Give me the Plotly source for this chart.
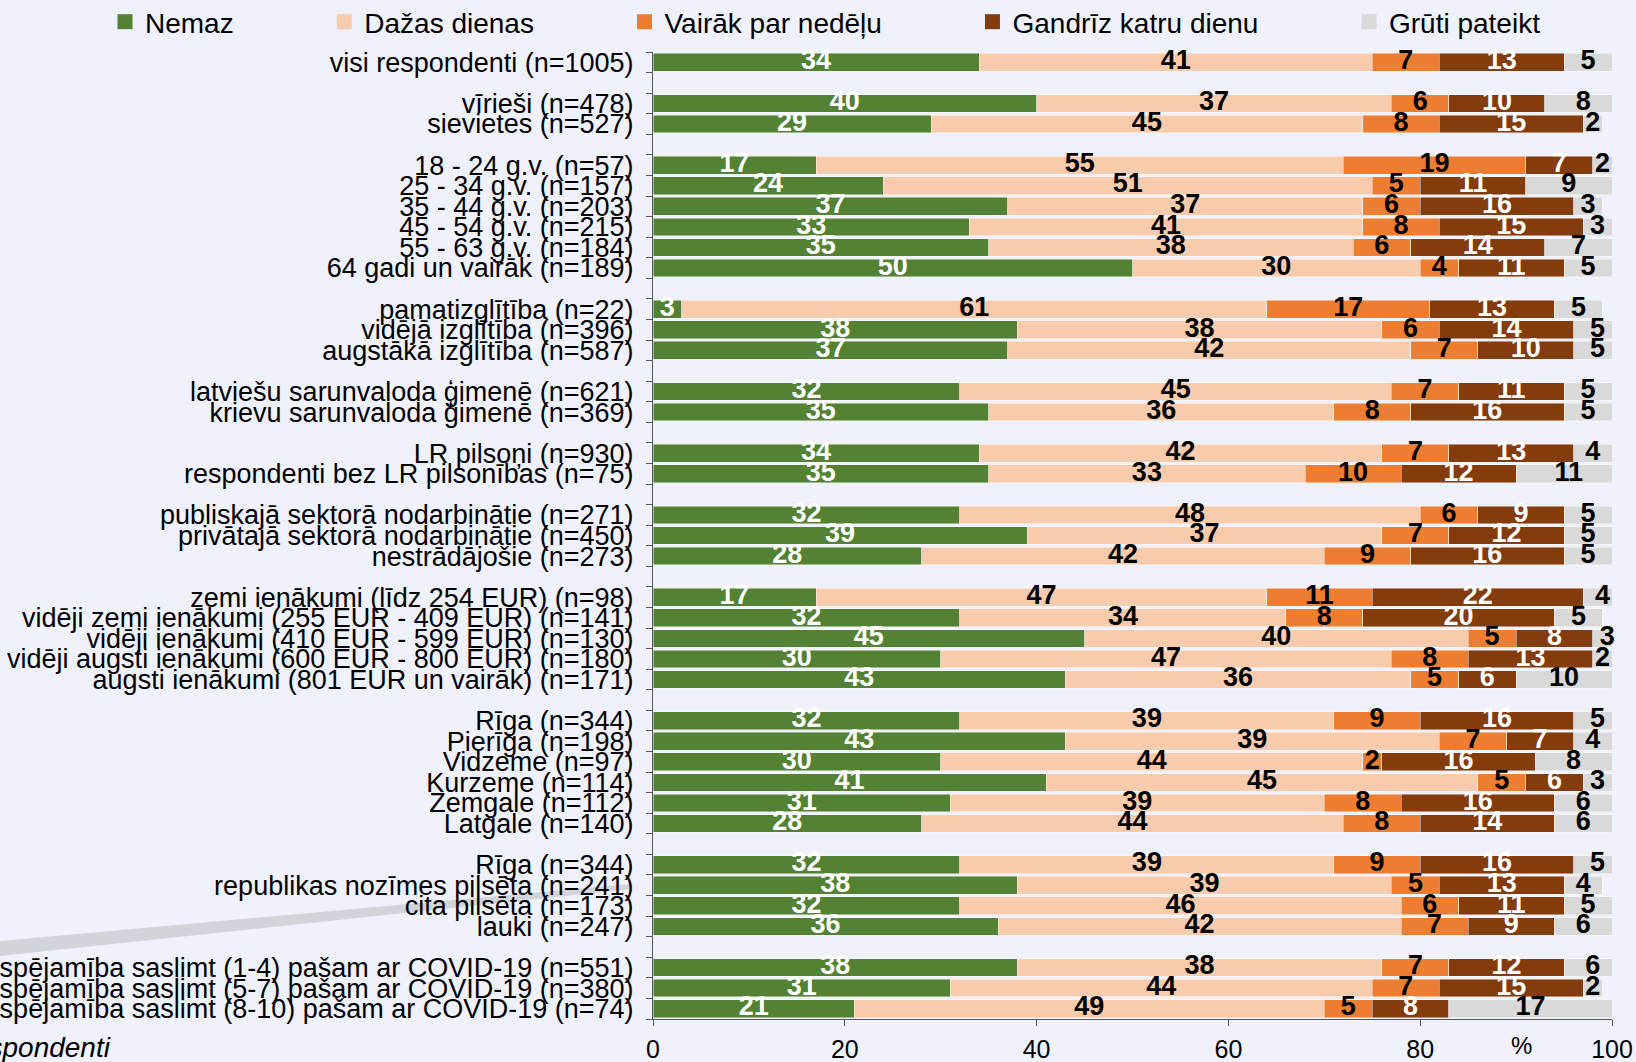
import plotly.graph_objects as go

# ---- data ----
series_names = ["Nemaz", "Dažas dienas", "Vairāk par nedēļu", "Gandrīz katru dienu", "Grūti pateikt"]
series_colors = ["#548235", "#F8CBAD", "#ED7D31", "#843C0C", "#D9D9D9"]
text_colors = ["white", "black", "black", "white", "black"]

groups = [
    ["visi respondenti (n=1005)"],
    ["vīrieši (n=478)", "sievietes (n=527)"],
    ["18 - 24 g.v. (n=57)", "25 - 34 g.v. (n=157)", "35 - 44 g.v. (n=203)",
     "45 - 54 g.v. (n=215)", "55 - 63 g.v. (n=184)", "64 gadi un vairāk (n=189)"],
    ["pamatizglītība (n=22)", "vidējā izglītība (n=396)", "augstākā izglītība (n=587)"],
    ["latviešu sarunvaloda ģimenē (n=621)", "krievu sarunvaloda ģimenē (n=369)"],
    ["LR pilsoņi (n=930)", "respondenti bez LR pilsonības (n=75)"],
    ["publiskajā sektorā nodarbinātie (n=271)", "privātajā sektorā nodarbinātie (n=450)",
     "nestrādājošie (n=273)"],
    ["zemi ienākumi (līdz 254 EUR) (n=98)", "vidēji zemi ienākumi (255 EUR - 409 EUR) (n=141)",
     "vidēji ienākumi (410 EUR - 599 EUR) (n=130)", "vidēji augsti ienākumi (600 EUR - 800 EUR) (n=180)",
     "augsti ienākumi (801 EUR un vairāk) (n=171)"],
    ["Rīga (n=344)", "Pierīga (n=198)", "Vidzeme (n=97)", "Kurzeme (n=114)",
     "Zemgale (n=112)", "Latgale (n=140)"],
    ["Rīga (n=344)", "republikas nozīmes pilsēta (n=241)", "cita pilsēta (n=173)", "lauki (n=247)"],
    ["Iespējamība saslimt (1-4) pašam ar COVID-19 (n=551)",
     "Iespējamība saslimt (5-7) pašam ar COVID-19 (n=380)",
     "Iespējamība saslimt (8-10) pašam ar COVID-19 (n=74)"],
]

nemaz = [34, 40, 29, 17, 24, 37, 33, 35, 50, 3, 38, 37, 32, 35, 34, 35, 32, 39, 28,
         17, 32, 45, 30, 43, 32, 43, 30, 41, 31, 28, 32, 38, 32, 36, 38, 31, 21]
dazas = [41, 37, 45, 55, 51, 37, 41, 38, 30, 61, 38, 42, 45, 36, 42, 33, 48, 37, 42,
         47, 34, 40, 47, 36, 39, 39, 44, 45, 39, 44, 39, 39, 46, 42, 38, 44, 49]
vairak = [7, 6, 8, 19, 5, 6, 8, 6, 4, 17, 6, 7, 7, 8, 7, 10, 6, 7, 9,
          11, 8, 5, 8, 5, 9, 7, 2, 5, 8, 8, 9, 5, 6, 7, 7, 7, 5]
gandriz = [13, 10, 15, 7, 11, 16, 15, 14, 11, 13, 14, 10, 11, 16, 13, 12, 9, 12, 16,
           22, 20, 8, 13, 6, 16, 7, 16, 6, 16, 14, 16, 13, 11, 9, 12, 15, 8]
gruti = [5, 8, 2, 2, 9, 3, 3, 7, 5, 5, 5, 5, 5, 5, 4, 11, 5, 5, 5,
         4, 5, 3, 2, 10, 5, 4, 8, 3, 6, 6, 5, 4, 5, 6, 6, 2, 17]

x_ticks = [0, 20, 40, 60, 80, 100]
base_note = "Bāze: visi respondenti"
unit_label = "%"

# ---- layout helpers ----
W, H = 1636, 1062
ML, MR, MT, MB = 653, 24, 52, 43
PW, PH = W - ML - MR, H - MT - MB
FONT = "Liberation Sans, Arial"


def px(x):
    return (x - ML) / PW


def py(y):
    return (H - MB - y) / PH


# row positions with an empty slot between groups
labels, ypos = [], []
p = 0
for g in groups:
    for lab in g:
        labels.append(lab)
        ypos.append(p)
        p += 1
    p += 1
last = ypos[-1]

series = [nemaz, dazas, vairak, gandriz, gruti]
NB = "\u00a0"

fig = go.Figure()
starts = [0] * len(ypos)
for name, vals, col, tcol in zip(series_names, series, series_colors, text_colors):
    fig.add_trace(go.Bar(
        name=name, y=ypos, x=vals, orientation="h", width=0.86,
        marker=dict(color=col, line=dict(color="rgba(255,255,255,0.55)", width=0.8)),
        showlegend=False, hoverinfo="skip", cliponaxis=False,
    ))
    centers = [s + v / 2 for s, v in zip(starts, vals)]
    fig.add_trace(go.Scatter(
        x=centers, y=ypos, mode="text", text=[str(v) for v in vals],
        textposition="middle center", cliponaxis=False, showlegend=False,
        textfont=dict(family=FONT, size=27, color=tcol, weight="bold"),
        hoverinfo="skip",
    ))
    starts = [s + v for s, v in zip(starts, vals)]

# legend entries (square swatches)
for name, col in zip(series_names, series_colors):
    fig.add_trace(go.Scatter(
        x=[None], y=[None], mode="markers", name=name + NB * 11,
        marker=dict(symbol="square", size=15, color=col), hoverinfo="skip",
    ))

fig.update_layout(
    width=W, height=H,
    barmode="stack",
    margin=dict(l=ML, r=MR, t=MT, b=MB, autoexpand=False),
    paper_bgcolor="#EFF1FC",
    plot_bgcolor="rgba(0,0,0,0)",
    font=dict(family=FONT, color="black"),
    legend=dict(
        orientation="h", x=px(105), xanchor="left", y=py(22), yanchor="middle",
        font=dict(size=28, color="black"), bgcolor="rgba(0,0,0,0)",
        traceorder="normal", itemclick=False, itemdoubleclick=False,
    ),
    showlegend=True,
    xaxis=dict(
        range=[0, 100], tickvals=x_ticks, ticks="outside", ticklen=6,
        tickcolor="#595959", showline=True, linecolor="#595959", linewidth=1,
        showgrid=False, zeroline=False, tickfont=dict(size=25),
        ticklabelstandoff=2, fixedrange=True, automargin=False,
    ),
    yaxis=dict(
        range=[last + 0.5, -0.5], tickvals=ypos, ticktext=labels, ticks="",
        showline=True, linecolor="#595959", linewidth=1, showgrid=False,
        zeroline=False, tickfont=dict(size=27), ticklabelstandoff=13,
        minor=dict(tickvals=[i - 0.5 for i in range(last + 2)], ticks="outside",
                   ticklen=6, tickcolor="#595959", showgrid=False),
        fixedrange=True, automargin=False,
    ),
)

# decorative grey swoosh from the background
x0, x1 = px(0), px(631)
fig.add_shape(
    type="path", xref="paper", yref="paper", layer="below",
    path=f"M {x0},{py(941)} L {x1},{py(884)} L {x1},{py(889)} L {x0},{py(956)} Z",
    fillcolor="#D2D4DB", line=dict(width=0),
)

fig.add_annotation(text=unit_label, xref="paper", yref="paper", x=px(1521), y=py(1045),
                   showarrow=False, font=dict(size=24), xanchor="center", yanchor="middle")
fig.add_annotation(text=f"<i>{base_note}</i>", xref="paper", yref="paper", x=px(113), y=py(1047),
                   showarrow=False, font=dict(size=28), xanchor="right", yanchor="middle")

fig.write_html(
    "out.html",
    config={"displayModeBar": False},
    post_script="document.body.style.margin='0';document.body.style.overflow='hidden';",
)
